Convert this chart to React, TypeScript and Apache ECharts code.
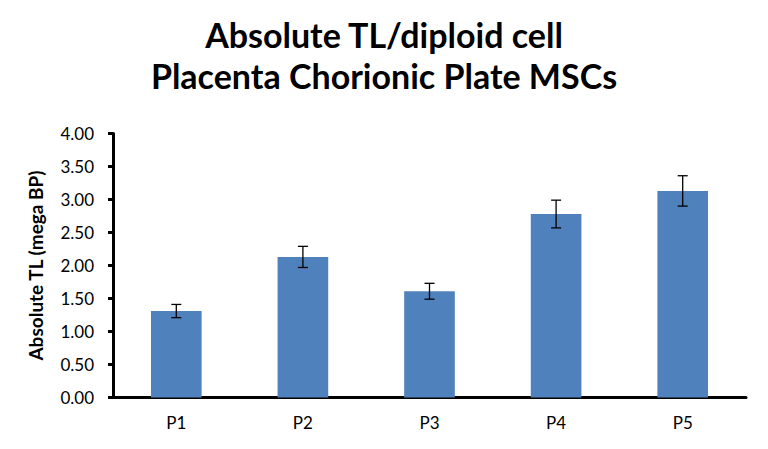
import React, { useEffect, useRef } from "react";
import * as echarts from "echarts";

const categories = ["P1", "P2", "P3", "P4", "P5"];
const values = [1.31, 2.13, 1.61, 2.78, 3.13];
const errors = [0.1, 0.16, 0.12, 0.21, 0.23];
const yTicks = { min: 0, max: 4, interval: 0.5 };

const FONT = "Lato, 'Open Sans', sans-serif";

export default function App() {
  const ref = useRef<HTMLDivElement>(null);

  useEffect(() => {
    if (!ref.current) return;
    const chart = echarts.init(ref.current, null, { renderer: "svg" });
    const errData = values.map((v, i) => [i, v - errors[i], v + errors[i]]);
    chart.setOption({
      animation: false,
      backgroundColor: "#ffffff",
      title: {
        text: "Absolute TL/diploid cell\nPlacenta Chorionic Plate MSCs",
        left: "center",
        top: 9,
        textStyle: {
          fontFamily: FONT,
          fontWeight: "bold",
          fontSize: 34,
          lineHeight: 41,
          color: "#000",
        },
      },
      grid: { left: 113, right: 22, top: 133.5, bottom: 51.5 },
      xAxis: {
        type: "category",
        data: categories,
        axisLine: { lineStyle: { color: "#000", width: 3 } },
        axisTick: { show: false },
        axisLabel: { fontFamily: FONT, fontSize: 17, color: "#000", margin: 16 },
      },
      yAxis: {
        type: "value",
        min: yTicks.min,
        max: yTicks.max,
        interval: yTicks.interval,
        name: "Absolute TL (mega BP)",
        nameLocation: "middle",
        nameGap: 68,
        nameTextStyle: { fontFamily: FONT, fontWeight: "bold", fontSize: 19, color: "#000" },
        axisLine: { show: true, lineStyle: { color: "#000", width: 3 } },
        axisTick: { show: true, length: 5, lineStyle: { color: "#000", width: 3 } },
        splitLine: { show: false },
        axisLabel: {
          fontFamily: FONT,
          fontSize: 17,
          color: "#000",
          margin: 19,
          formatter: (v: number) => v.toFixed(2),
        },
      },
      series: [
        {
          type: "bar",
          data: values,
          barWidth: "40%",
          itemStyle: { color: "#4F81BD" },
        },
        {
          type: "custom",
          data: errData,
          z: 10,
          renderItem: (params: any, api: any) => {
            const x = api.value(0);
            const lo = api.coord([x, api.value(1)]);
            const hi = api.coord([x, api.value(2)]);
            const hw = 5;
            const style = { stroke: "#000", lineWidth: 1.3 };
            return {
              type: "group",
              children: [
                { type: "line", shape: { x1: hi[0], y1: hi[1], x2: lo[0], y2: lo[1] }, style },
                { type: "line", shape: { x1: hi[0] - hw, y1: hi[1], x2: hi[0] + hw, y2: hi[1] }, style },
                { type: "line", shape: { x1: lo[0] - hw, y1: lo[1], x2: lo[0] + hw, y2: lo[1] }, style },
              ],
            };
          },
        },
      ],
    });
    return () => chart.dispose();
  }, []);

  return (
    <div
      ref={ref}
      style={{ position: "fixed", left: 0, top: 0, width: 768, height: 449, background: "#fff" }}
    />
  );
}
